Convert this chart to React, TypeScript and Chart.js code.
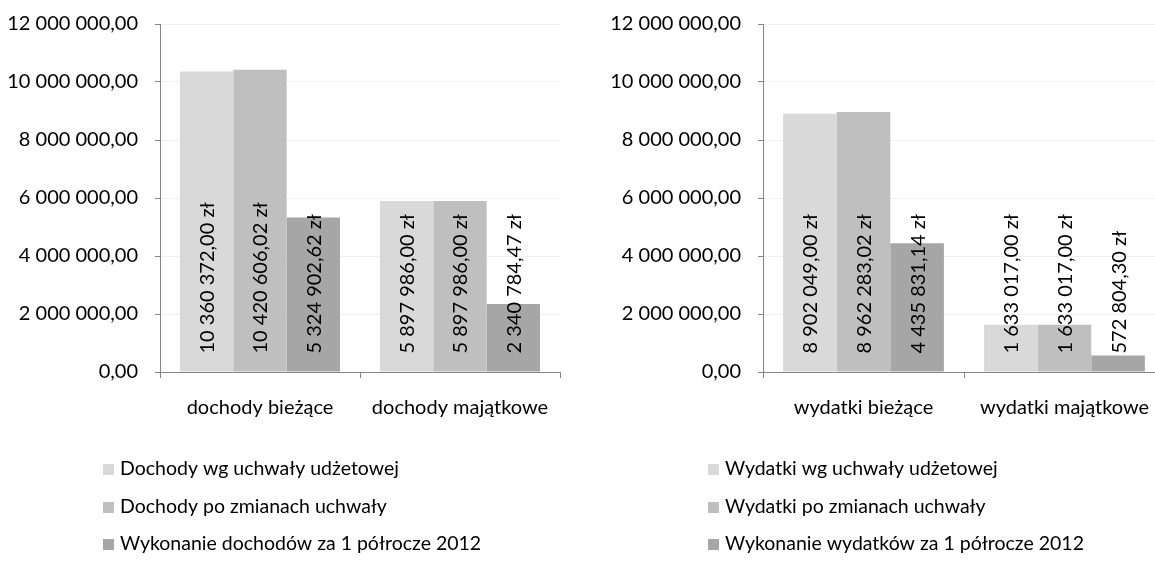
import React, { useEffect, useRef } from "react";
import { Chart, registerables } from "chart.js";

Chart.register(...registerables);

// ---- data ----
const incomeCategories = ["dochody bieżące", "dochody majątkowe"];
const incomeSeriesNames = [
  "Dochody wg uchwały udżetowej",
  "Dochody po zmianach uchwały",
  "Wykonanie dochodów za 1 półrocze 2012",
];
const incomePlanned = [10360372.0, 5897986.0];
const incomeAmended = [10420606.02, 5897986.0];
const incomeExecuted = [5324902.62, 2340784.47];

const expenseCategories = ["wydatki bieżące", "wydatki majątkowe"];
const expenseSeriesNames = [
  "Wydatki wg uchwały udżetowej",
  "Wydatki po zmianach uchwały",
  "Wykonanie wydatków za 1 półrocze 2012",
];
const expensePlanned = [8902049.0, 1633017.0];
const expenseAmended = [8962283.02, 1633017.0];
const expenseExecuted = [4435831.14, 572804.3];

const yMin = 0;
const yMax = 12000000;
const yStep = 2000000;

// ---- styles ----
const FONT = "Lato, 'Open Sans', sans-serif";
const COLORS = ["#d9d9d9", "#bfbfbf", "#a6a6a6"];
const AXIS = "#868686";
const GRID = "#f0f0f0";
const LEGEND_ROWS = [469, 507, 544];

function fmt(v: number): string {
  const [i, d] = Math.abs(v).toFixed(2).split(".");
  const withSp = i.replace(/\B(?=(\d{3})+(?!\d))/g, " ");
  return (v < 0 ? "-" : "") + withSp + "," + d;
}

const barLabelPlugin = {
  id: "barLabels",
  afterDatasetsDraw(chart: any) {
    const ctx = chart.ctx;
    ctx.save();
    ctx.fillStyle = "#000";
    ctx.font = `20px ${FONT}`;
    ctx.textAlign = "left";
    ctx.textBaseline = "middle";
    chart.data.datasets.forEach((ds: any, di: number) => {
      const meta = chart.getDatasetMeta(di);
      meta.data.forEach((el: any, idx: number) => {
        const v = ds.data[idx];
        ctx.save();
        ctx.translate(el.x, el.base - 18);
        ctx.rotate(-Math.PI / 2);
        ctx.fillText(fmt(v) + " zł", 0, 1);
        ctx.restore();
      });
    });
    ctx.restore();
  },
};

const legendPlugin = {
  id: "customLegend",
  afterDraw(chart: any) {
    const o = chart.options.plugins.customLegend;
    const ctx = chart.ctx;
    ctx.save();
    ctx.font = `19.5px ${FONT}`;
    ctx.textAlign = "left";
    ctx.textBaseline = "middle";
    chart.data.datasets.forEach((ds: any, i: number) => {
      const y = LEGEND_ROWS[i];
      ctx.fillStyle = ds.backgroundColor;
      ctx.fillRect(o.x, y - 5, 11, 11);
      ctx.fillStyle = "#000";
      ctx.fillText(ds.label, o.x + 17, y);
    });
    ctx.restore();
  },
};

function makeConfig(
  cats: string[],
  names: string[],
  series: number[][],
  yWidth: number,
  padRight: number,
  legendX: number
): any {
  return {
    type: "bar",
    data: {
      labels: cats,
      datasets: series.map((s, i) => ({
        label: names[i],
        data: s,
        backgroundColor: COLORS[i],
        borderWidth: 0,
        barPercentage: 1,
        categoryPercentage: 0.8,
      })),
    },
    options: {
      responsive: false,
      animation: false,
      layout: { padding: { left: 0, right: padRight, top: 24, bottom: 133 } },
      plugins: {
        legend: { display: false },
        tooltip: { enabled: false },
        customLegend: { x: legendX },
      },
      scales: {
        x: {
          offset: true,
          grid: {
            display: true,
            drawOnChartArea: false,
            tickLength: 6,
            color: AXIS,
            offset: true,
          },
          border: { color: AXIS, width: 1 },
          ticks: { color: "#000", font: { family: FONT, size: 20 }, padding: 18, maxRotation: 0 },
          afterFit: (s: any) => {
            s.height = 60;
          },
        },
        y: {
          min: yMin,
          max: yMax,
          ticks: {
            stepSize: yStep,
            color: "#000",
            font: { family: FONT, size: 20 },
            padding: 17,
            callback: (v: any) => fmt(Number(v)),
          },
          grid: { color: GRID, tickLength: 5, tickColor: AXIS },
          border: { color: AXIS, width: 1 },
          afterFit: (s: any) => {
            s.width = yWidth;
            s.paddingTop = 0;
            s.paddingBottom = 0;
          },
        },
      },
    },
    plugins: [barLabelPlugin, legendPlugin],
  };
}

function ChartCanvas({ config, width, height }: { config: any; width: number; height: number }) {
  const ref = useRef<HTMLCanvasElement>(null);
  useEffect(() => {
    if (!ref.current) return;
    const chart = new Chart(ref.current, config);
    return () => chart.destroy();
  }, [config]);
  return <canvas ref={ref} width={width} height={height} style={{ display: "block" }} />;
}

const leftConfig = makeConfig(
  incomeCategories,
  incomeSeriesNames,
  [incomePlanned, incomeAmended, incomeExecuted],
  160,
  17,
  103
);
const rightConfig = makeConfig(
  expenseCategories,
  expenseSeriesNames,
  [expensePlanned, expenseAmended, expenseExecuted],
  185,
  3,
  130
);

export default function App() {
  return (
    <div
      style={{
        position: "fixed",
        left: 0,
        top: 0,
        width: 1155,
        height: 565,
        background: "#fff",
        overflow: "hidden",
      }}
    >
      <div style={{ position: "absolute", left: 0, top: 0 }}>
        <ChartCanvas config={leftConfig} width={577} height={565} />
      </div>
      <div style={{ position: "absolute", left: 578, top: 0 }}>
        <ChartCanvas config={rightConfig} width={590} height={565} />
      </div>
    </div>
  );
}
